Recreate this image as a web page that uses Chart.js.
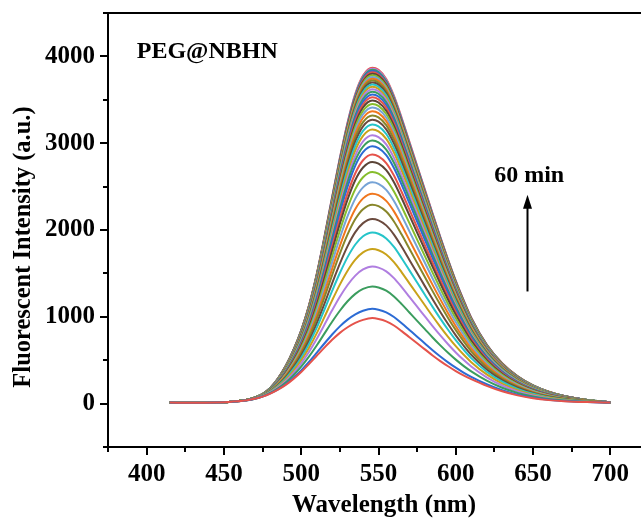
<!DOCTYPE html>
<html>
<head>
<meta charset="utf-8">
<script src="https://cdn.jsdelivr.net/npm/chart.js@4.4.1/dist/chart.umd.min.js"></script>
<style>
html, body { margin: 0; padding: 0; background: #fff; overflow: hidden; }
#wrap { width: 660px; height: 519px; }
</style>
</head>
<body>
<div id="wrap"><canvas id="spectra" width="660" height="519"></canvas></div>
<script>
// wavelength grid (nm) the spectra were read at
var wavelengths = [415, 430, 445, 455, 465, 470, 475, 480, 485, 490, 495, 500, 505, 510, 515, 520, 525, 530, 535, 540, 546,
    550, 555, 560, 565, 570, 575, 580, 585, 590, 595, 600, 605, 610, 620, 630, 640, 650, 660, 670, 685, 700];
// first scan (0 min)
var firstSpectrum = [12, 10, 14, 22, 38, 55, 80, 115, 160, 215, 285, 365, 455, 550, 645, 735, 815, 880, 930, 965, 985,
    975, 948, 900, 835, 765, 695, 625, 555, 490, 430, 375, 325, 282, 205, 142, 95, 62, 40, 27, 17, 12];
// last scan (60 min)
var lastSpectrum = [12, 10, 14, 22, 45, 70, 110, 180, 290, 435, 620, 845, 1130, 1490, 1920, 2380, 2830, 3240, 3570, 3780, 3870,
    3845, 3740, 3545, 3290, 3015, 2740, 2465, 2190, 1920, 1660, 1415, 1195, 990, 680, 465, 315, 210, 138, 88, 42, 15];
// peak height of every scan, bottom to top
var peakHeights = [985, 1092, 1350, 1580, 1781, 1972, 2127, 2292, 2419, 2549, 2669, 2784, 2869, 2964, 3030, 3091,
    3157, 3215, 3270, 3320, 3368, 3412, 3453, 3492, 3528, 3562, 3593, 3622, 3649, 3675, 3699, 3722, 3743, 3763,
    3782, 3800, 3816, 3831, 3845, 3858, 3870];
var lineColors = ['#e5534b', '#2c6bd4', '#3b9d5e', '#b07ee0', '#c9a21a', '#25c4c9', '#6b4a3e', '#88862a',
    '#f0771e', '#76a3d6', '#86bd2c', '#5b4437'];
var xTicks = [400, 450, 500, 550, 600, 650, 700];
var yTicks = [0, 1000, 2000, 3000, 4000];

var FONT = 'Liberation Serif';
var p0 = peakHeights[0], pN = peakHeights[peakHeights.length - 1];

var datasets = [];
for (var i = 0; i < peakHeights.length; i++) {
    var f = (peakHeights[i] - p0) / (pN - p0);
    var pts = [];
    for (var k = 0; k < wavelengths.length; k++) {
        pts.push({ x: wavelengths[k], y: firstSpectrum[k] + (lastSpectrum[k] - firstSpectrum[k]) * f });
    }
    datasets.push({
        label: 'scan ' + i,
        data: pts,
        borderColor: i === peakHeights.length - 1 ? '#e5534b' : lineColors[i % lineColors.length],
        borderWidth: 2,
        pointRadius: 0,
        cubicInterpolationMode: 'monotone',
        fill: false
    });
}

// frame, ticks (major + minor), axis titles and the notes
var decor = {
    id: 'decor',
    afterDraw: function(chart) {
        var ctx = chart.ctx, a = chart.chartArea;
        var xs = chart.scales.x, ys = chart.scales.y;
        ctx.save();
        ctx.strokeStyle = '#000';
        ctx.lineWidth = 2;
        ctx.strokeRect(a.left, a.top, a.right - a.left, a.bottom - a.top);
        ctx.beginPath();
        for (var v = 375; v <= 725; v += 25) {
            var px = Math.round(xs.getPixelForValue(v));
            ctx.moveTo(px, a.bottom);
            ctx.lineTo(px, a.bottom + (v % 50 === 0 ? 8 : 5));
        }
        for (var w = -500; w <= 4500; w += 500) {
            var py = Math.round(ys.getPixelForValue(w));
            ctx.moveTo(a.left, py);
            ctx.lineTo(a.left - (w % 1000 === 0 ? 8 : 5), py);
        }
        ctx.stroke();

        ctx.fillStyle = '#000';
        ctx.font = 'bold 25px "' + FONT + '"';
        ctx.textAlign = 'center';
        ctx.textBaseline = 'alphabetic';
        ctx.fillText('Wavelength (nm)', 384, 512);
        ctx.save();
        ctx.translate(30, 247);
        ctx.rotate(-Math.PI / 2);
        ctx.font = 'bold 24.5px "' + FONT + '"';
        ctx.fillText('Fluorescent Intensity (a.u.)', 0, 0);
        ctx.restore();

        ctx.font = 'bold 24px "' + FONT + '"';
        ctx.textAlign = 'left';
        ctx.fillText('PEG@NBHN', xs.getPixelForValue(393.6), ys.getPixelForValue(3987));
        ctx.textAlign = 'center';
        ctx.fillText('60 min', xs.getPixelForValue(647.5), ys.getPixelForValue(2551));

        var ax = Math.round(xs.getPixelForValue(645.8)) + 0.5;
        var yTip = ys.getPixelForValue(2407), yEnd = ys.getPixelForValue(1292);
        ctx.lineWidth = 2;
        ctx.beginPath();
        ctx.moveTo(ax, yEnd);
        ctx.lineTo(ax, yTip + 10);
        ctx.stroke();
        ctx.beginPath();
        ctx.moveTo(ax, yTip);
        ctx.lineTo(ax - 4.5, yTip + 14);
        ctx.lineTo(ax + 4.5, yTip + 14);
        ctx.closePath();
        ctx.fill();
        ctx.restore();
    }
};

function plainLabel(v) { return String(v); }

new Chart(document.getElementById('spectra'), {
    type: 'line',
    data: { datasets: datasets },
    options: {
        responsive: false,
        animation: false,
        devicePixelRatio: 1,
        layout: { padding: { left: 0, top: 13, right: 11, bottom: 0 } },
        plugins: { legend: { display: false }, tooltip: { enabled: false } },
        scales: {
            x: {
                type: 'linear',
                min: 375,
                max: 725,
                grid: { display: false, drawTicks: false },
                border: { display: false },
                afterBuildTicks: function(s) { s.ticks = xTicks.map(function(v) { return { value: v }; }); },
                afterFit: function(s) { s.height = 72; s.paddingLeft = 0; s.paddingRight = 0; },
                ticks: { color: '#000', padding: 13, maxRotation: 0, callback: plainLabel,
                    font: { family: FONT, size: 25, weight: 'bold' } }
            },
            y: {
                min: -500,
                max: 4500,
                grid: { display: false, drawTicks: false },
                border: { display: false },
                afterBuildTicks: function(s) { s.ticks = yTicks.map(function(v) { return { value: v }; }); },
                afterFit: function(s) { s.width = 108; s.paddingTop = 0; s.paddingBottom = 0; },
                ticks: { color: '#000', padding: 13, callback: plainLabel,
                    font: { family: FONT, size: 25, weight: 'bold' } }
            }
        }
    },
    plugins: [decor]
});
</script>
</body>
</html>
